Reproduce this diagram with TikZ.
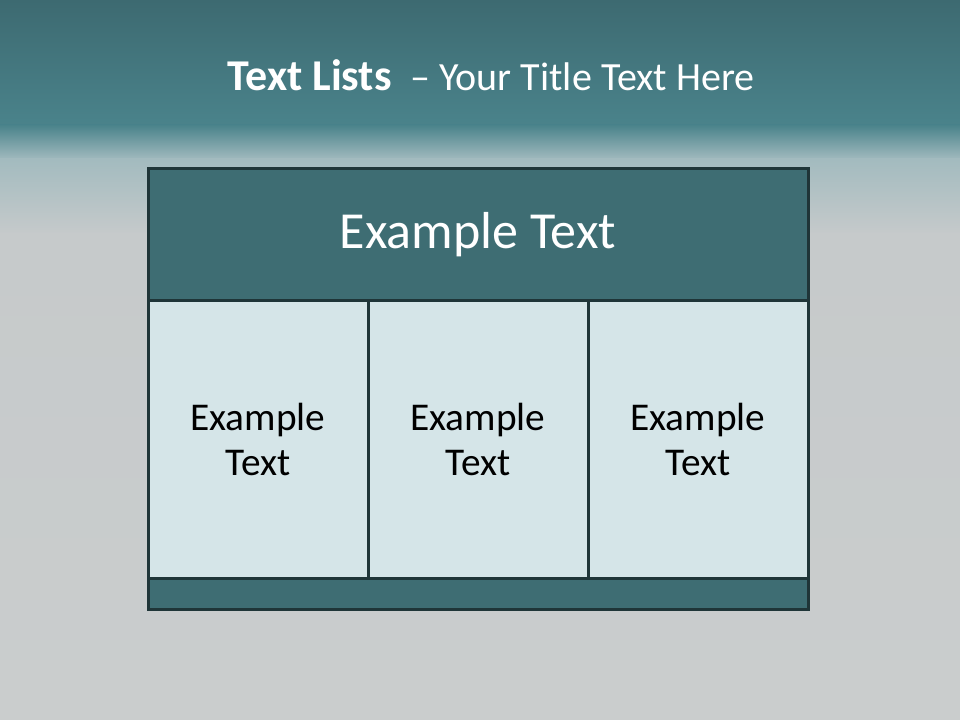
\documentclass[tikz,border=0pt]{standalone}
\usepackage{fontspec}
\setmainfont{Carlito}
\usepackage{tikz}
\usetikzlibrary{positioning}
\definecolor{tlbandtop}{HTML}{3D6A71}
\definecolor{tlband}{HTML}{4A838B}
\definecolor{tlmist}{HTML}{A3BBBF}
\definecolor{tlgrey}{HTML}{C6CACB}
\definecolor{tlgreylow}{HTML}{CACDCD}
\definecolor{tlhead}{HTML}{3E6D73}
\definecolor{tlline}{HTML}{1F3538}
\definecolor{tlcell}{HTML}{D5E5E8}
\tikzset{
  headbox/.style={draw=tlline,fill=tlhead,line width=2.25pt,outer sep=0pt,
                  minimum width=495pt,minimum height=99pt,inner sep=0pt,
                  text=white,font=\fontsize{39}{46}\selectfont},
  cellbox/.style={draw=tlline,fill=tlcell,line width=2.25pt,outer sep=0pt,
                  minimum width=165pt,minimum height=207.75pt,inner sep=0pt,
                  align=center,text=black,font=\fontsize{29.5}{34}\selectfont},
  footbox/.style={draw=tlline,fill=tlhead,line width=2.25pt,outer sep=0pt,
                  minimum width=495pt,minimum height=23.25pt,inner sep=0pt},
  titletext/.style={text=white,font=\fontsize{30}{37}\selectfont,inner sep=0pt},
}
\begin{document}
\begin{tikzpicture}[x=0.75pt,y=-0.75pt]
    \useasboundingbox (0,0) rectangle (960,720);
    % backdrop
    \fill[top color=tlbandtop,bottom color=tlband] (0,0) rectangle (960,126);
    \fill[top color=tlband,bottom color=tlmist] (0,125) rectangle (960,160);
    \fill[top color=tlmist,bottom color=tlgrey] (0,159) rectangle (960,235);
    \fill[top color=tlgrey,bottom color=tlgreylow] (0,234) rectangle (960,720);
    % title
    \node[titletext] (title) at (491,75) {{\fontsize{33}{37}\selectfont\bfseries Text Lists}\hspace{14pt}-- Your Title Text Here};
    % table
    \node[headbox] (hdr) at (478,235) {Example Text};
    \node[cellbox,below right=0pt and 0pt of hdr.south west] (c1) {Example\\Text};
    \node[cellbox,right=0pt of c1] (c2) {Example\\Text};
    \node[cellbox,right=0pt of c2] (c3) {Example\\Text};
    \node[footbox,below right=0pt and 0pt of c1.south west] (foot) {};
  \end{tikzpicture}
\end{document}
